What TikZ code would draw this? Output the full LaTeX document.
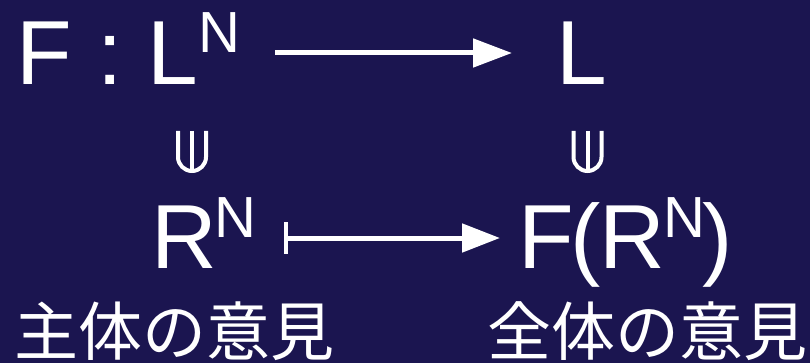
\documentclass[tikz,border=0pt]{standalone}
\usepackage{fontspec}
\setmainfont{Liberation Sans}
\newfontfamily\jpfont{Noto Sans CJK JP}
\usetikzlibrary{arrows.meta}
\definecolor{bg}{RGB}{27,21,80}
\newcommand\supN[1]{\raisebox{#1pt}{\fontsize{58}{58}\selectfont N}}
\begin{document}
\begin{tikzpicture}[x=1pt,y=-1pt,
  lbl/.style={text=white,inner sep=0pt,anchor=base west,font=\fontsize{91}{91}\selectfont},
  jp/.style={text=white,inner sep=0pt,anchor=base west,font=\jpfont\fontsize{64}{64}\selectfont},
  conn/.style={white,line width=5pt},
  incl/.style={white,line width=4pt}]
\fill[bg] (0,0) rectangle (810,363);
\useasboundingbox (0,0) rectangle (810,363);
\node[lbl] (FL) at (16,85) {F : L\supN{32}};
\node[lbl] (L) at (556,85) {L};
\node[lbl] (R) at (151,268) {R\kern-2pt\supN{31}};
\node[lbl] (FR) at (518,268) {F\kern-3pt(\kern-2pt R\kern-1pt\supN{31}\kern-3pt)};
\node[jp] (j1) at (14,355) {主体の意見};
\node[jp] (j2) at (487,355) {全体の意見};
\draw[conn,-{Triangle[length=39pt,width=28pt]}]
  ([shift={(35pt,32pt)}]FL.base east) -- ([shift={(-44pt,32pt)}]L.base west);
\draw[conn,{Bar[width=31pt,line width=4pt]}-{Triangle[length=38pt,width=28pt]}]
  ([shift={(27pt,30pt)}]R.base east) -- ([shift={(-18pt,30pt)}]FR.base west);
\draw[incl] (178,131) -- (178,157) arc[start angle=180,end angle=0,radius=14] -- (206,131);
\draw[incl] (192,131) -- (192,171);
\draw[incl] (573.5,131) -- (573.5,157) arc[start angle=180,end angle=0,radius=14] -- (601.5,131);
\draw[incl] (587.5,131) -- (587.5,171);
\end{tikzpicture}
\end{document}
